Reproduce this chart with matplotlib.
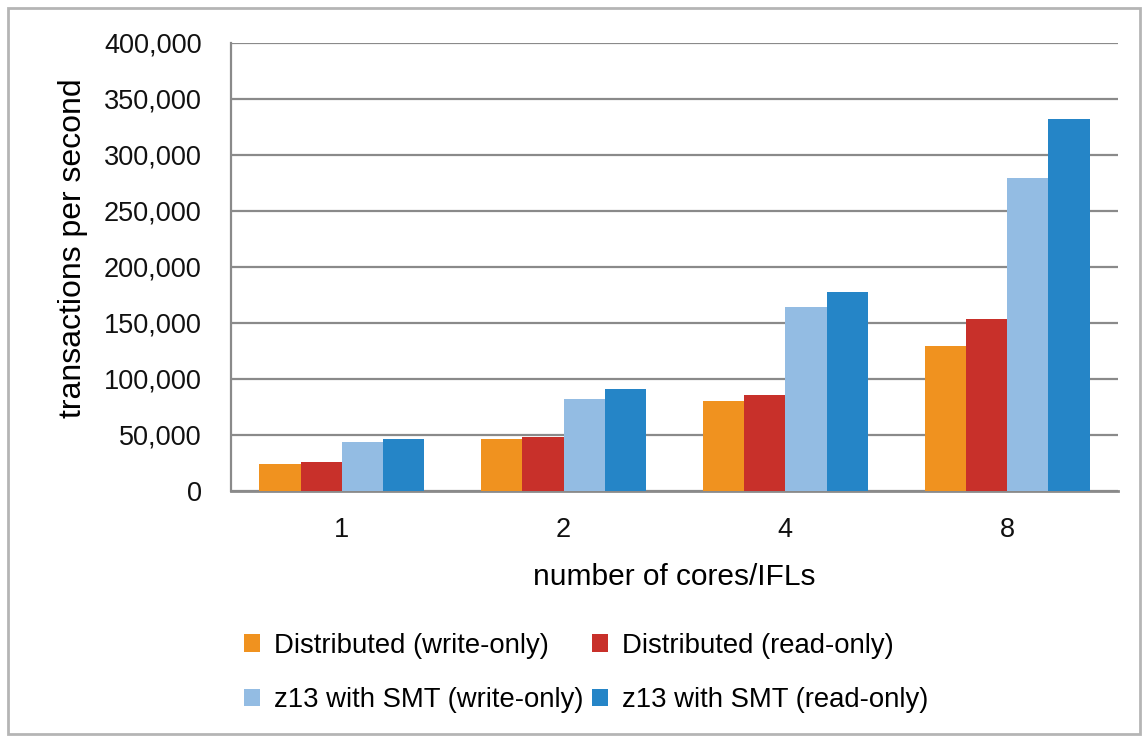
import numpy as np
import matplotlib.pyplot as plt
from matplotlib.patches import Patch, Rectangle
from matplotlib.ticker import FuncFormatter

plt.rcParams['font.family'] = ['Liberation Sans', 'DejaVu Sans']

cores = ['1', '2', '4', '8']
series_names = ['Distributed (write-only)', 'Distributed (read-only)',
                'z13 with SMT (write-only)', 'z13 with SMT (read-only)']
dist_write = [24400, 46700, 80600, 129500]
dist_read = [26200, 48500, 85700, 153600]
smt_write = [43800, 82100, 164000, 279700]
smt_read = [46700, 90800, 177400, 332100]
colors = ['#F0921F', '#C8302A', '#93BCE3', '#2585C7']

fig = plt.figure(figsize=(11.42, 7.36), dpi=100)
ax = fig.add_axes([231 / 1142, 1 - 491 / 736, 887 / 1142, 448 / 736])

x = np.arange(len(cores))
w = 0.186
handles = []
for i, vals in enumerate([dist_write, dist_read, smt_write, smt_read]):
    ax.bar(x + (i - 1.5) * w, vals, width=w, color=colors[i], zorder=3)
    handles.append(Patch(facecolor=colors[i], label=series_names[i]))

ax.set_xlim(-0.5, 3.5)
ax.set_ylim(0, 400000)
ax.set_yticks(range(0, 400001, 50000))
ax.yaxis.set_major_formatter(FuncFormatter(lambda v, p: f'{int(v):,}'))
ax.set_xticks(x)
ax.set_xticklabels(cores)
ax.tick_params(axis='both', length=0, labelsize=19.5, colors='#111111')
ax.tick_params(axis='y', pad=21)
ax.tick_params(axis='x', pad=19)
ax.grid(axis='y', color='#8a8a8a', lw=1.6, zorder=0)
for s in ['top', 'right']:
    ax.spines[s].set_visible(False)
ax.spines['left'].set_color('#8a8a8a')
ax.spines['left'].set_linewidth(1.6)
ax.spines['bottom'].set_color('#8a8a8a')
ax.spines['bottom'].set_linewidth(2)

ax.set_xlabel('number of cores/IFLs', fontsize=21.5, labelpad=14)
ax.set_ylabel('transactions per second', fontsize=23)
ax.yaxis.set_label_coords(-143 / 887, (491 - 248) / 448)

order = [0, 2, 1, 3]
fig.legend([handles[i] for i in order], [series_names[i] for i in order],
           ncol=2, frameon=False, fontsize=19.8, loc='center',
           bbox_to_anchor=(586 / 1142, 1 - 673 / 736),
           handlelength=0.6, handleheight=0.6, handletextpad=0.5,
           columnspacing=0.3, labelspacing=1.03)

fig.patches.append(Rectangle((8 / 1142, 2 / 736), 1132 / 1142, 726 / 736,
                             transform=fig.transFigure, fill=False,
                             edgecolor='#b5b5b5', lw=2))

fig.savefig('out.png', dpi=100)
